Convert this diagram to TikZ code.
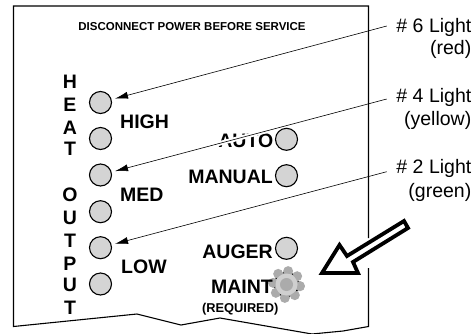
\documentclass[tikz,border=0pt]{standalone}
\usepackage{fontspec}
\setmainfont{Liberation Sans}
\usetikzlibrary{arrows.meta,calc}
\definecolor{ledgray}{HTML}{D4D4D4}
\definecolor{geargray}{HTML}{ABABAB}
\definecolor{ringgray}{HTML}{CFCFCF}
\tikzset{
  led/.style={circle,draw=black,line width=1.1pt,fill=ledgray,minimum size=22pt,inner sep=0pt},
  lab/.style={font=\fontsize{19.5}{19.5}\selectfont\bfseries,inner sep=0pt},
  vert/.style={font=\fontsize{19.5}{19.5}\selectfont\bfseries,inner sep=0pt},
  note/.style={font=\fontsize{19.5}{19.5}\selectfont,inner sep=0pt,anchor=east},
  lead/.style={line width=0.6pt,-{Latex[length=13pt,width=7pt]},shorten >=3.5pt},
}
\begin{document}
\begin{tikzpicture}[x=1pt,y=-1pt]
\useasboundingbox (0,0) rectangle (476,333);
\draw[line width=1.1pt] (368.5,238) -- (368.5,6) -- (13.5,6) -- (13.5,326.5) -- (137,314) -- (181,325) -- (220,318) -- (312,334);
\draw[line width=1.1pt] (312,334) -- (343,331) -- (368.5,326.5) -- (368.5,268);
\node[font=\fontsize{11.5}{11.5}\selectfont\bfseries,inner sep=0pt] (title) at (192,27) {DISCONNECT POWER BEFORE SERVICE};
\foreach \n/\c/\y in {h/H/82,e/E/105,a/A/128,t/T/149,o/O/195,u/U/218,t2/T/241,p/P/264,u2/U/285,t3/T/308}
  \node[vert] (\n) at (70,\y) {\c};
\node[led] (l1) at (100.5,102.5) {};
\node[led] (l2) at (100.5,138.5) {};
\node[led] (l3) at (100.5,175) {};
\node[led] (l4) at (100.5,211.7) {};
\node[led] (l5) at (100.5,247.7) {};
\node[led] (l6) at (100.5,284) {};
\node[led] (r1) at (286.5,139.3) {};
\node[led] (r2) at (286.5,175.7) {};
\node[led] (r3) at (286.5,248.3) {};
% gear
\foreach \a in {7,52,...,367}
  \fill[geargray] (286.5,284.5)++(\a:13.5) circle (5pt);
\fill[ringgray] (286.5,284.5) circle (11pt);
\fill[geargray] (286.5,284.5) circle (6.5pt);
\foreach \a in {30,75,...,390}
  \fill[black] (286.5,284.5)++(\a:12) circle (0.7pt);
\node[lab,anchor=west] (high) at (120,122) {HIGH};
\node[lab,anchor=west] (med) at (120,195) {MED};
\node[lab,anchor=west] (low) at (121,266.7) {LOW};
\node[lab,anchor=east] (auto) at (273.5,140.5) {AUTO};
\node[lab,anchor=east] (manual) at (273,177) {MANUAL};
\node[lab,anchor=east] (auger) at (273,251.7) {AUGER};
\node[lab,anchor=east] (maint) at (273,287) {MAINT};
\node[font=\fontsize{12.8}{12.8}\selectfont\bfseries,inner sep=0pt,anchor=west] (req) at (202,309) {(REQUIRED)};
% leaders
\coordinate (c6) at (386.7,26);
\coordinate (c4) at (386.7,99);
\coordinate (c2) at (386.7,171.7);
\draw[white,line width=4.5pt] ($(c4)!0.40!(l3)$) -- ($(c4)!0.63!(l3)$);
\draw[lead] (c6) -- (l1);
\draw[lead] (c4) -- (l3);
\draw[lead] (c2) -- (l5);
\node[note] (n6) at (471.5,27) {\# 6 Light};
\node[note] (n6b) at (471.5,49) {(red)};
\node[note] (n4) at (471.5,97) {\# 4 Light};
\node[note] (n4b) at (471.5,120) {(yellow)};
\node[note] (n2) at (471.5,168) {\# 2 Light};
\node[note] (n2b) at (471.5,192) {(green)};
% big arrow
\draw[line width=3.8pt,fill=white,miter limit=10] (322,273) -- (339.5,245) -- (347,256) -- (404,221) -- (408,228) -- (353,262) -- (358,273) -- cycle;
\end{tikzpicture}
\end{document}
